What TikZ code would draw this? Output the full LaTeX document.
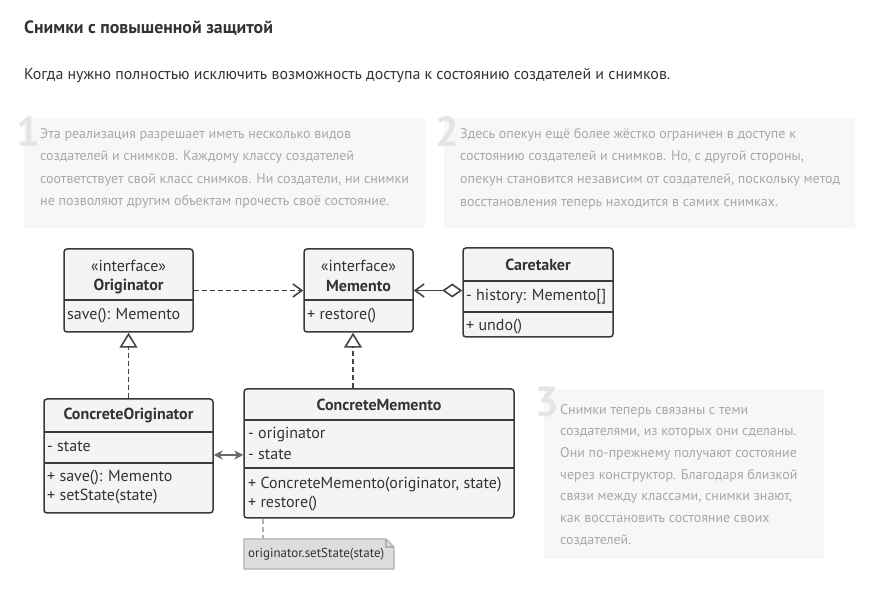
\documentclass[tikz,border=0pt]{standalone}
\usepackage{fontspec}
\setmainfont{PT Sans}
\usetikzlibrary{arrows.meta,calc}
\definecolor{parabg}{HTML}{F7F7F7}
\definecolor{paratext}{HTML}{A8A8A8}
\definecolor{numcol}{HTML}{E4E4E4}
\definecolor{titlecol}{HTML}{333333}
\definecolor{boxfill}{HTML}{F4F4F4}
\definecolor{boxline}{HTML}{3A3A3A}
\definecolor{conn}{HTML}{444444}
\definecolor{notefill}{HTML}{DDDDDD}
\definecolor{noteline}{HTML}{B0B0B0}
\tikzset{
  umlbox/.style={draw=boxline, fill=boxfill, line width=1.5pt, rounded corners=3pt, inner sep=0pt},
  divider/.style={draw=boxline, line width=1.5pt},
  umltxt/.style={inner sep=0pt, text=titlecol, font=\fontsize{16}{19}\selectfont},
  umlbold/.style={umltxt, font=\fontsize{16}{19}\selectfont\bfseries},
  paratxt/.style={inner sep=0pt, anchor=north west, align=left, text=paratext, font=\fontsize{14}{22.6}\selectfont},
  numtxt/.style={inner sep=0pt, text=numcol, font=\fontsize{42}{42}\selectfont\bfseries},
  conline/.style={draw=conn, line width=1.7pt},
  openarrow/.style={-{Straight Barb[length=9pt,width=13pt,line width=1.6pt]}},
  inherit/.style={-{Triangle[open,fill=white,length=15pt,width=18pt,line width=1.6pt]}},
  dashpat/.style={dash pattern=on 5pt off 3pt},
}
\begin{document}
\begin{tikzpicture}[x=1pt,y=-1pt]
\useasboundingbox (0,0) rectangle (879,609);
\fill[white] (0,0) rectangle (879,609);

% title and subtitle
\node[inner sep=0pt, anchor=west, text=titlecol, font=\fontsize{17.8}{21}\selectfont\bfseries] (title) at (24,28) {Снимки с повышенной защитой};
\node[inner sep=0pt, anchor=west, text=titlecol, font=\fontsize{15.9}{19}\selectfont] (subtitle) at (24,76) {Когда нужно полностью исключить возможность доступа к состоянию создателей и снимков.};

% paragraph boxes
\fill[parabg] (24,118) rectangle (425,228);
\node[numtxt, anchor=north west] (n1) at (16,116) {1};
\node[paratxt] (p1) at (40,128) {Эта реализация разрешает иметь несколько видов\\создателей и снимков. Каждому классу создателей\\соответствует свой класс снимков. Ни создатели, ни снимки\\не позволяют другим объектам прочесть своё состояние.};

\fill[parabg] (444,118) rectangle (855,228);
\node[numtxt, anchor=north west] (n2) at (435,116) {2};
\node[paratxt] (p2) at (460,128) {Здесь опекун ещё более жёстко ограничен в доступе к\\состоянию создателей и снимков. Но, с другой стороны,\\опекун становится независим от создателей, поскольку метод\\восстановления теперь находится в самих снимках.};

\fill[parabg] (544,389) rectangle (824,559);
\node[numtxt, anchor=north west] (n3) at (535,387) {3};
\node[paratxt, font=\fontsize{14}{21.7}\selectfont] (p3) at (560,404) {Снимки теперь связаны с теми\\создателями, из которых они сделаны.\\Они по-прежнему получают состояние\\через конструктор. Благодаря близкой\\связи между классами, снимки знают,\\как восстановить состояние своих\\создателей.};

% Originator
\node[umlbox, minimum width=129pt, minimum height=83pt] (orig) at (128.5,290.5) {};
\draw[divider] (64,300) -- (193,300);
\node[umltxt] at (128.5,266) {«interface»};
\node[umlbold] at (128.5,286) {Originator};
\node[umltxt, anchor=west] at (67,316) {save(): Memento};

% Memento
\node[umlbox, minimum width=109pt, minimum height=83pt] (mem) at (358.5,290.5) {};
\draw[divider] (304,300) -- (413,300);
\node[umltxt] at (358.5,266) {«interface»};
\node[umlbold] at (358.5,286) {Memento};
\node[umltxt, anchor=west] at (307,316) {+ restore()};

% Caretaker
\node[umlbox, minimum width=150pt, minimum height=89pt] (care) at (538,292.5) {};
\draw[divider] (463,281) -- (613,281);
\draw[divider] (463,312) -- (613,312);
\node[umlbold] at (538,265) {Caretaker};
\node[umltxt, anchor=west] at (466,297) {- history: Memento[]};
\node[umltxt, anchor=west] at (466,327) {+ undo()};

% ConcreteOriginator
\node[umlbox, minimum width=169pt, minimum height=114pt] (corig) at (128.5,456) {};
\draw[divider] (44,432) -- (213,432);
\draw[divider] (44,463) -- (213,463);
\node[umlbold] at (128.5,415) {ConcreteOriginator};
\node[umltxt, anchor=west] at (47,447) {- state};
\node[umltxt, anchor=west] at (47,478) {+ save(): Memento};
\node[umltxt, anchor=west] at (47,497) {+ setState(state)};

% ConcreteMemento
\node[umlbox, minimum width=270pt, minimum height=129pt] (cmem) at (379,453.5) {};
\draw[divider] (244,420) -- (514,420);
\draw[divider] (244,468) -- (514,468);
\node[umlbold] at (379,405) {ConcreteMemento};
\node[umltxt, anchor=west] at (248,435) {- originator};
\node[umltxt, anchor=west] at (248,455) {- state};
\node[umltxt, anchor=west] at (248,485) {+ ConcreteMemento(originator, state)};
\node[umltxt, anchor=west] at (248,504) {+ restore()};

% note
\draw[fill=notefill, draw=noteline, line width=1.2pt]
  (244,539) -- (386,539) -- (394,547) -- (394,569) -- (244,569) -- cycle;
\draw[draw=noteline, line width=1.2pt] (386,539) -- (386,547) -- (394,547);
\node[inner sep=0pt, text=titlecol, font=\fontsize{13}{15}\selectfont, anchor=west] (note) at (248,554.5) {originator.setState(state)};
\coordinate (noteTop) at (263,539);

% connectors
\draw[conline, dashpat, openarrow] (orig.east) -- (mem.west);
\coordinate (careL) at (care.west |- mem.east);
\draw[conline, {Diamond[open,fill=white,length=20pt,width=14pt,line width=1.6pt]}-{Straight Barb[length=9pt,width=13pt,line width=1.6pt]}] (careL) -- (mem.east);
\draw[conline, dashpat, inherit] (corig.north) -- (orig.south);
\coordinate (memS) at ($(mem.south)+(-5.5,0)$);
\draw[conline, dashpat, inherit] (cmem.north -| memS) -- (memS);
\coordinate (dblL) at (corig.east |- 0,455);
\draw[draw=conn!80, line width=1.6pt, {Stealth[length=9pt,width=9pt,inset=3pt]}-{Stealth[length=9pt,width=9pt,inset=3pt]}] (dblL) -- (cmem.west |- dblL);
\draw[draw=noteline, line width=1.6pt, dashpat] (cmem.south -| noteTop) -- (noteTop);
\end{tikzpicture}
\end{document}
